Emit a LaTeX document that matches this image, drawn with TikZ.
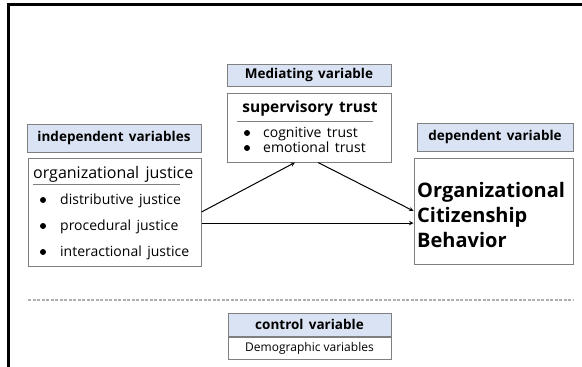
\documentclass[tikz,border=0pt]{standalone}
\usepackage{fontspec}
\setmainfont[WordSpace=1.5]{Open Sans}
\newfontfamily\tightfont{Open Sans}
\usetikzlibrary{arrows,positioning}
\usepackage{xcolor}
\definecolor{hblue}{HTML}{DAE3F3}
\definecolor{bgray}{HTML}{7F7F7F}
\definecolor{dgray}{HTML}{AFAFAF}
\tikzstyle{l1}=[line width=1]
\tikzstyle{box}=[rectangle, draw=bgray, line width=1, inner sep=0pt]
\tikzstyle{head}=[box, fill=hblue, font=\fontsize{13.5}{16}\selectfont\bfseries]
\tikzstyle{txt}=[inner sep=0pt, anchor=base west, font=\fontsize{14}{16}\selectfont]
\tikzstyle{big}=[inner sep=0pt, anchor=base west, font=\fontsize{20}{25}\selectfont\bfseries]

\begin{document}
\begin{tikzpicture}[x=1pt,y=-1pt,>=stealth]
    \useasboundingbox (0,0) rectangle (582,367);
    \draw[line width=3] (8,367) -- (8,4.5) -- (582,4.5);

    \node[head, minimum width=164, minimum height=22] (med) at (309,75) {Mediating variable};
    \node[box, minimum width=164, minimum height=69] (sup) at (309,127.5) {};
    \node[inner sep=0pt, anchor=base, font=\fontsize{15.5}{18}\selectfont\bfseries] (supt) at (310,112.5) {supervisory trust};
    \draw[bgray, l1] (237,121) -- (373,121);
    \node[txt] (cog) at (263,137.5) {cognitive trust};
    \node[txt] (emo) at (263,152.5) {emotional trust};
    \fill (247,133) circle (3) (247,148) circle (3);

    \node[head, minimum width=174, minimum height=28] (ind) at (114,138) {independent variables};
    \node[box, minimum width=173, minimum height=108] (org) at (114.5,212) {};
    \node[inner sep=0pt, anchor=base west, font=\fontsize{16}{19}\selectfont] (orgt) at (33,178.5) {organizational justice};
    \draw[bgray, l1] (33,184) -- (180,184);
    \node[txt] (dis) at (60,204.5) {distributive justice};
    \node[txt] (pro) at (60,230.5) {procedural justice};
    \node[txt] (int) at (60,256.5) {interactional justice};
    \foreach \y in {200,226,252}
        \fill (43,\y) circle (3);

    \node[head, minimum width=156, minimum height=28] (dep) at (495,137) {dependent variable};
    \node[box, minimum width=159, minimum height=106] (ocb) at (493.5,211) {};
    \node[big] (ocb1) at (417,197) {Organizational};
    \node[big] (ocb2) at (417,222) {Citizenship};
    \node[big] (ocb3) at (417,247) {Behavior};

    \draw[l1, ->] (org.east) -- ([xshift=-14]sup.south);
    \draw[l1, ->] ([xshift=9]sup.south) -- (ocb.west);
    \draw[l1, ->] ([yshift=-11]org.east) -- ([yshift=-11]org.east -| ocb.west);

    \draw[dgray, line width=1.2, dash pattern=on 3 off 1.5] (28,300) -- (573,300);

    \node[head, minimum width=163, minimum height=23] (ctl) at (309.5,324.5) {control variable};
    \node[box, minimum width=163, minimum height=22, font=\fontsize{12}{14}\selectfont\tightfont, below=0 of ctl] (demo) {Demographic variables};
\end{tikzpicture}
\end{document}
